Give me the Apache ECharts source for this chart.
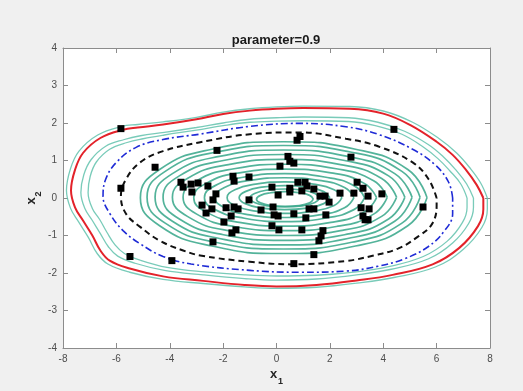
<!DOCTYPE html>
<html><head><meta charset="utf-8">
<script src="https://cdn.jsdelivr.net/npm/echarts/dist/echarts.min.js"></script>
<style>html,body{margin:0;padding:0;background:#f0f0f0}#c{width:523px;height:391px}</style>
</head><body><div id="c"></div>
<script>
// ---- data ----
var titleText = 'parameter=0.9';
var xTicks = [-8, 8, 2];
var yTicks = [-4, 4, 1];

var redCurve = [[7.75,0.0],[7.5,0.35],[7.1,0.75],[6.6,1.15],[6.0,1.5],[5.0,1.95],[4.0,2.25],[2.75,2.38],[1.0,2.4],[0,2.38],[-1.0,2.33],[-2.0,2.24],[-3.0,2.1],[-4.25,1.96],[-5.2,1.88],[-5.75,1.82],[-6.6,1.6],[-7.25,1.2],[-7.55,0.75],[-7.7,0.2],[-7.55,-0.25],[-7.25,-0.6],[-6.9,-1.0],[-6.6,-1.4],[-6.25,-1.67],[-5.5,-1.88],[-4.25,-2.09],[-2.75,-2.21],[-1.2,-2.32],[0,-2.36],[1.5,-2.32],[3.0,-2.2],[4.35,-2.05],[5.85,-1.77],[6.85,-1.33],[7.55,-0.75],[7.75,-0.3],[7.75,0.0]];

var blueCurve = [[6.6,0.0],[6.45,0.42],[5.95,0.88],[5.1,1.3],[3.8,1.7],[2.6,1.9],[0.9,1.99],[-1.0,1.91],[-2.9,1.70],[-4.25,1.56],[-5.26,1.35],[-6.0,0.95],[-6.4,0.5],[-6.5,0.05],[-6.24,-0.42],[-5.75,-0.87],[-5.11,-1.22],[-4.25,-1.56],[-3.2,-1.76],[-1.0,-1.93],[0.9,-1.98],[2.6,-1.95],[3.8,-1.82],[4.8,-1.62],[5.68,-1.3],[6.3,-0.87],[6.6,-0.42],[6.6,0.0]];

var blackCurve = [[6.0,0.0],[5.7,0.5],[5.1,0.95],[3.8,1.38],[2.6,1.58],[0.9,1.75],[-1.0,1.70],[-2.9,1.48],[-4.25,1.25],[-5.11,0.95],[-5.64,0.5],[-5.83,0.05],[-5.64,-0.42],[-5.11,-0.77],[-4.37,-1.14],[-3.5,-1.4],[-2.8,-1.54],[-1.0,-1.70],[0.6,-1.77],[2.6,-1.68],[3.6,-1.54],[4.55,-1.35],[5.3,-1.03],[5.83,-0.69],[6.0,-0.2],[6.0,0.0]];

var tealOuter = [
 [[7.9,0.0],[7.65,0.4],[7.25,0.8],[6.75,1.2],[6.1,1.58],[5.1,2.02],[4.0,2.32],[2.75,2.44],[1.0,2.45],[0,2.43],[-1.0,2.38],[-2.0,2.29],[-3.0,2.15],[-4.25,2.03],[-5.2,1.96],[-5.8,1.91],[-6.7,1.68],[-7.4,1.25],[-7.72,0.78],[-7.87,0.2],[-7.72,-0.27],[-7.42,-0.63],[-7.05,-1.05],[-6.72,-1.48],[-6.32,-1.76],[-5.5,-1.98],[-4.25,-2.17],[-2.75,-2.28],[-1.2,-2.37],[0,-2.41],[1.5,-2.38],[3.0,-2.27],[4.4,-2.12],[5.95,-1.84],[6.98,-1.38],[7.7,-0.78],[7.9,-0.3],[7.9,0.0]],
 [[7.38,0.0],[7.12,0.38],[6.72,0.75],[6.25,1.1],[5.7,1.42],[4.8,1.78],[3.8,2.02],[2.7,2.14],[1.0,2.16],[0,2.14],[-1.0,2.1],[-2.0,2.0],[-3.0,1.88],[-4.2,1.75],[-5.1,1.66],[-5.7,1.56],[-6.4,1.38],[-6.95,1.02],[-7.22,0.62],[-7.33,0.15],[-7.18,-0.28],[-6.9,-0.6],[-6.6,-0.95],[-6.3,-1.3],[-5.95,-1.55],[-5.3,-1.74],[-4.2,-1.93],[-2.75,-2.05],[-1.2,-2.15],[0,-2.19],[1.5,-2.16],[3.0,-2.05],[4.3,-1.9],[5.7,-1.62],[6.6,-1.2],[7.2,-0.68],[7.38,-0.25],[7.38,0.0]],
 [[7.14,0.0],[6.9,0.38],[6.5,0.72],[6.05,1.05],[5.5,1.36],[4.7,1.7],[3.7,1.93],[2.7,2.04],[1.0,2.06],[0,2.05],[-1.0,2.02],[-2.0,1.93],[-3.0,1.81],[-4.2,1.68],[-5.0,1.58],[-5.6,1.48],[-6.25,1.3],[-6.75,0.96],[-6.98,0.58],[-7.06,0.15],[-6.9,-0.28],[-6.62,-0.58],[-6.35,-0.92],[-6.05,-1.25],[-5.7,-1.48],[-5.1,-1.66],[-4.1,-1.85],[-2.7,-1.97],[-1.2,-2.05],[0,-2.08],[1.5,-2.06],[3.0,-1.97],[4.2,-1.83],[5.5,-1.56],[6.4,-1.15],[6.97,-0.65],[7.14,-0.25],[7.14,0.0]]
];

var tealInner = [
 [[5.64,0.01],[4.92,0.76],[2.96,1.30],[0.27,1.50],[-2.42,1.30],[-4.38,0.76],[-5.1,0.01],[-4.38,-0.74],[-2.42,-1.28],[0.27,-1.48],[2.96,-1.28],[4.92,-0.74],[5.64,0.01]],
 [[5.38,0.02],[4.70,0.71],[2.82,1.22],[0.27,1.40],[-2.29,1.22],[-4.17,0.71],[-4.85,0.02],[-4.17,-0.67],[-2.29,-1.18],[0.27,-1.36],[2.82,-1.18],[4.70,-0.67],[5.38,0.02]],
 [[5.08,0.02],[4.43,0.65],[2.67,1.11],[0.27,1.28],[-2.14,1.11],[-3.9,0.65],[-4.55,0.02],[-3.9,-0.62],[-2.14,-1.08],[0.27,-1.25],[2.67,-1.08],[4.43,-0.62],[5.08,0.02]],
 [[4.81,0.02],[4.2,0.59],[2.55,1.0],[0.28,1.16],[-1.99,1.0],[-3.64,0.59],[-4.25,0.02],[-3.64,-0.56],[-1.99,-0.98],[0.28,-1.13],[2.55,-0.98],[4.2,-0.56],[4.81,0.02]],
 [[4.5,0.02],[3.94,0.52],[2.4,0.89],[0.3,1.03],[-1.8,0.89],[-3.34,0.52],[-3.9,0.02],[-3.34,-0.49],[-1.8,-0.87],[0.3,-1.0],[2.4,-0.87],[3.94,-0.49],[4.5,0.02]],
 [[4.15,0.02],[3.64,0.46],[2.24,0.78],[0.33,0.90],[-1.59,0.78],[-2.99,0.46],[-3.5,0.02],[-2.99,-0.43],[-1.59,-0.76],[0.33,-0.87],[2.24,-0.76],[3.64,-0.43],[4.15,0.02]],
 [[3.75,0.01],[3.29,0.39],[2.04,0.67],[0.33,0.77],[-1.39,0.67],[-2.64,0.39],[-3.1,0.01],[-2.64,-0.37],[-1.39,-0.65],[0.33,-0.75],[2.04,-0.65],[3.29,-0.37],[3.75,0.01]],
 [[3.3,0.01],[2.9,0.33],[1.8,0.56],[0.3,0.65],[-1.2,0.56],[-2.3,0.33],[-2.7,0.01],[-2.3,-0.31],[-1.2,-0.54],[0.3,-0.63],[1.8,-0.54],[2.9,-0.31],[3.3,0.01]],
 [[2.9,0.01],[2.55,0.28],[1.6,0.47],[0.3,0.54],[-1.0,0.47],[-1.95,0.28],[-2.3,0.01],[-1.95,-0.26],[-1.0,-0.45],[0.3,-0.52],[1.6,-0.45],[2.55,-0.26],[2.9,0.01]],
 [[2.45,0.01],[2.16,0.22],[1.38,0.37],[0.3,0.43],[-0.78,0.37],[-1.56,0.22],[-1.85,0.01],[-1.56,-0.2],[-0.78,-0.35],[0.3,-0.41],[1.38,-0.35],[2.16,-0.2],[2.45,0.01]],
 [[2.0,0.01],[1.77,0.17],[1.15,0.29],[0.3,0.33],[-0.55,0.29],[-1.17,0.17],[-1.4,0.01],[-1.17,-0.15],[-0.55,-0.27],[0.3,-0.31],[1.15,-0.27],[1.77,-0.15],[2.0,0.01]],
 [[1.62,0],[1.44,0.12],[0.97,0.21],[0.31,0.24],[-0.35,0.21],[-0.82,0.12],[-1.0,0],[-0.82,-0.12],[-0.35,-0.21],[0.31,-0.24],[0.97,-0.21],[1.44,-0.12],[1.62,0]],
 [[1.38,-0.03],[1.24,0.07],[0.85,0.14],[0.32,0.17],[-0.21,0.14],[-0.6,0.07],[-0.75,-0.03],[-0.6,-0.13],[-0.21,-0.2],[0.32,-0.22],[0.85,-0.2],[1.24,-0.13],[1.38,-0.03]]
];

var samplePoints = [[-5.83,1.85],[-2.23,1.27],[-4.55,0.82],[-5.83,0.26],[-3.58,0.42],[-3.5,0.29],[-3.2,0.37],[-2.94,0.40],[-2.57,0.32],[-3.17,0.16],[-2.27,0.11],[-2.38,-0.05],[-1.63,0.58],[-1.59,0.45],[-1.03,0.56],[-1.03,-0.05],[-2.79,-0.19],[-2.42,-0.29],[-2.64,-0.4],[-1.89,-0.26],[-1.59,-0.24],[-1.44,-0.29],[-1.7,-0.48],[-1.97,-0.64],[-1.52,-0.85],[-1.67,-0.93],[-2.38,-1.17],[-5.49,-1.56],[-3.92,-1.67],
[4.4,1.83],[0.77,1.54],[0.88,1.64],[2.79,1.09],[0.43,1.11],[0.5,0.98],[0.65,0.93],[0.13,0.85],[0.8,0.42],[1.07,0.42],[1.14,0.32],[-0.17,0.29],[0.5,0.26],[0.95,0.19],[0.5,0.16],[1.4,0.24],[0.06,0.08],[1.63,0.05],[1.82,0.05],[1.97,-0.11],[2.38,0.13],[2.9,0.13],[3.02,0.42],[3.24,0.26],[3.43,0.05],[3.95,0.11],[-0.58,-0.32],[-0.13,-0.24],[1.22,-0.29],[1.4,-0.29],[-0.09,-0.45],[0.06,-0.48],[0.65,-0.42],[1.1,-0.53],[1.85,-0.45],[3.17,-0.26],[3.47,-0.29],[3.24,-0.48],[3.32,-0.58],[3.43,-0.58],[5.49,-0.24],[-0.17,-0.74],[0.09,-0.85],[0.95,-0.85],[1.74,-0.87],[1.67,-1.01],[1.59,-1.14],[1.4,-1.51],[0.65,-1.75]];

// ---- chart ----
var chart = echarts.init(document.getElementById('c'), null, {renderer: 'canvas'});
var lineCol = '#8c8c8c';
var labCol = '#4d4d4d';
var FONT = 'Liberation Sans, Arial, Helvetica, sans-serif';

function axisCommon(showLabels) {
  return {
    axisLine: {show: true, onZero: false, lineStyle: {color: lineCol, width: 1}},
    axisTick: {show: true, inside: true, length: 5, lineStyle: {color: lineCol}},
    axisLabel: {show: showLabels, color: labCol, fontSize: 10, fontFamily: FONT, margin: 6},
    splitLine: {show: false}
  };
}

var series = [];
tealOuter.forEach(function (c) {
  series.push({type: 'line', data: c, smooth: 0.4, symbol: 'none', silent: true,
    lineStyle: {color: '#62c2ad', width: 1.3, opacity: 0.85}, z: 2});
});
tealInner.forEach(function (c) {
  series.push({type: 'line', data: c, smooth: 0.5, symbol: 'none', silent: true,
    lineStyle: {color: '#35a688', width: 1.7, opacity: 0.85}, z: 2});
});
series.push({type: 'line', data: blueCurve, smooth: 0.4, symbol: 'none', silent: true,
  lineStyle: {color: '#1f2bd6', width: 1.6, type: [7, 3, 2, 3]}, z: 3});
series.push({type: 'line', data: blackCurve, smooth: 0.4, symbol: 'none', silent: true,
  lineStyle: {color: '#111', width: 2, type: [6, 4]}, z: 3});
series.push({type: 'line', data: redCurve, smooth: 0.4, symbol: 'none', silent: true,
  lineStyle: {color: '#e3222a', width: 2}, z: 3});
series.push({type: 'scatter', data: samplePoints, symbol: 'rect', symbolSize: 7,
  itemStyle: {color: '#000', opacity: 1}, z: 5, silent: true});

var subRich = {
  x: {fontSize: 13, fontWeight: 'bold', fontFamily: FONT, color: '#262626', lineHeight: 16, verticalAlign: 'top'},
  s: {fontSize: 9, fontWeight: 'bold', fontFamily: FONT, color: '#262626', lineHeight: 10, padding: [9, 0, 0, 1], verticalAlign: 'top'}
};

chart.setOption({
  backgroundColor: '#f0f0f0',
  animation: false,
  grid: {left: 63, right: 33, top: 48, bottom: 41, show: true, backgroundColor: '#ffffff', borderWidth: 0},
  xAxis: [
    Object.assign({type: 'value', min: xTicks[0], max: xTicks[1], interval: xTicks[2], position: 'bottom',
      name: '{x|x}{s|1}', nameLocation: 'middle', nameGap: 20, nameMoveOverlap: false,
      nameTextStyle: {rich: subRich}}, axisCommon(true)),
    Object.assign({type: 'value', min: xTicks[0], max: xTicks[1], interval: xTicks[2], position: 'top'}, axisCommon(false))
  ],
  yAxis: [
    Object.assign({type: 'value', min: yTicks[0], max: yTicks[1], interval: yTicks[2], position: 'left',
      name: '{x|x}{s|2}', nameLocation: 'middle', nameGap: 22, nameRotate: 90, nameMoveOverlap: false,
      nameTextStyle: {rich: subRich}}, axisCommon(true)),
    Object.assign({type: 'value', min: yTicks[0], max: yTicks[1], interval: yTicks[2], position: 'right'}, axisCommon(false))
  ],
  graphic: [{
    type: 'text', x: 276, y: 40,
    style: {text: titleText, font: 'bold 13px ' + FONT, fill: '#1a1a1a', align: 'center', verticalAlign: 'middle'}
  }],
  series: series
});
</script></body></html>
